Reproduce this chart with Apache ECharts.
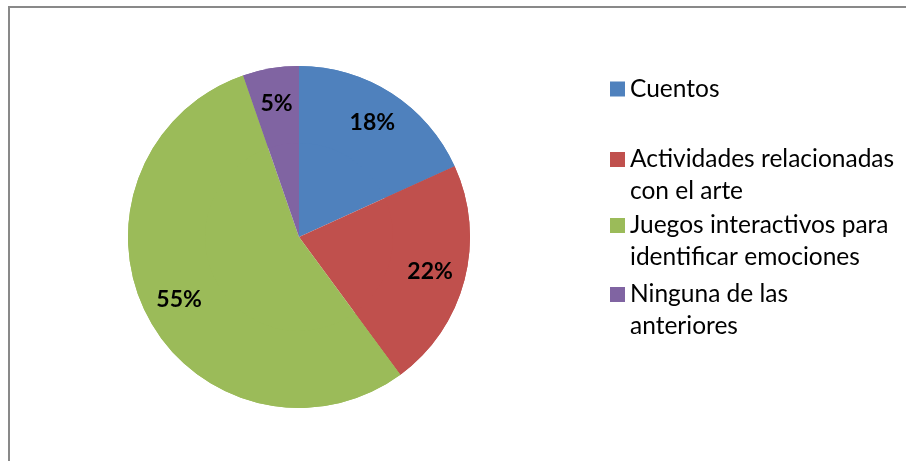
<!DOCTYPE html>
<html>
<head>
<meta charset="UTF-8">
<title>Recursos preferidos</title>
<script src="https://cdn.jsdelivr.net/npm/echarts@6/dist/echarts.min.js"></script>
<style>
  html, body { margin: 0; padding: 0; background: #fff; }
  #main { width: 906px; height: 461px; }
</style>
</head>
<body>
<div id="main"></div>
<script>
// datos
var categorias = ['Cuentos', 'Actividades relacionadas con el arte', 'Juegos interactivos para identificar emociones', 'Ninguna de las anteriores'];
var porcentajes = [18.2, 21.7, 54.8, 5.3];
var etiquetasLeyenda = ['Cuentos', 'Actividades relacionadas\ncon el arte', 'Juegos interactivos para\nidentificar emociones', 'Ninguna de las\nanteriores'];
var colores = ['#4F81BD', '#C0504D', '#9BBB59', '#8064A2'];

var fuente = 'Lato';
var chart = echarts.init(document.getElementById('main'), null, { renderer: 'canvas' });

var datos = categorias.map(function (c, i) {
    return { name: c, value: porcentajes[i], itemStyle: { color: colores[i] } };
});

// una leyenda por elemento; en las de dos lineas el cuadro va arriba (path con punto extra abajo)
var topes = [73, 143.5, 209.5, 278.5];
var leyendas = categorias.map(function (c, i) {
    var dosLineas = etiquetasLeyenda[i].indexOf('\n') >= 0;
    return {
        left: 610,
        top: topes[i],
        orient: 'vertical',
        padding: 0,
        data: [c],
        icon: dosLineas ? 'path://M0,0h15v15h-15zM0,47' : 'rect',
        itemWidth: 15,
        itemHeight: dosLineas ? 47 : 15,
        selectedMode: false,
        formatter: function (name) { return etiquetasLeyenda[categorias.indexOf(name)]; },
        textStyle: {
            fontFamily: fuente,
            fontSize: 24.5,
            lineHeight: 32,
            color: '#000'
        }
    };
});

var option = {
    animation: false,
    backgroundColor: '#fff',
    graphic: [{
        type: 'rect',
        shape: { x: 9, y: 7, width: 1000, height: 1000 },
        style: { fill: 'none', stroke: '#898989', lineWidth: 2 },
        z: -10
    }],
    legend: leyendas,
    series: [{
        type: 'pie',
        center: [299, 237],
        radius: [0, 171],
        startAngle: 90,
        clockwise: true,
        data: datos,
        label: { show: false },
        labelLine: { show: false },
        emphasis: { disabled: true }
    }, {
        // serie transparente solo para colocar las etiquetas mas afuera
        type: 'pie',
        center: [299, 237],
        radius: [94, 171],
        startAngle: 90,
        clockwise: true,
        silent: true,
        percentPrecision: 0,
        data: datos,
        itemStyle: { color: 'rgba(0,0,0,0)' },
        label: {
            show: true,
            position: 'inside',
            formatter: '{d}%',
            fontFamily: fuente,
            fontWeight: 'bold',
            fontSize: 23,
            color: '#000'
        },
        labelLine: { show: false },
        emphasis: { disabled: true }
    }]
};
chart.setOption(option);
</script>
</body>
</html>
